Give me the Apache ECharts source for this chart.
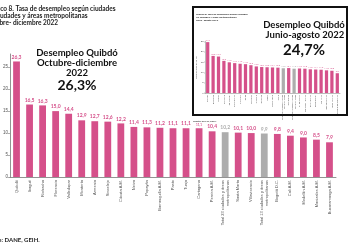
<!DOCTYPE html>
<html>
<head>
<meta charset="utf-8">
<script src="https://cdn.jsdelivr.net/npm/echarts@6/dist/echarts.min.js"></script>
<style>
  html, body { margin: 0; padding: 0; background: #fff; }
  #chart { width: 350px; height: 250px; }
</style>
</head>
<body>
<div id="chart"></div>
<script>
// Octubre-diciembre 2022
const ciudades = ['Quibdó', 'Ibagué', 'Riohacha', 'Florencia', 'Valledupar', 'Montería', 'Armenia', 'Sincelejo',
  'Cúcuta A.M.', 'Neiva', 'Popayán', 'Barranquilla A.M.', 'Pasto', 'Tunja', 'Cartagena', 'Pereira A.M.',
  'Total 23 ciudades y áreas metropolitanas', 'Santa Marta', 'Villavicencio',
  'Total 13 ciudades y áreas metropolitanas', 'Bogotá D.C.', 'Cali A.M.', 'Medellín A.M.',
  'Manizales A.M.', 'Bucaramanga A.M.'];
const tasaOctDic = [26.3, 16.5, 16.3, 15.0, 14.4, 12.9, 12.7, 12.6, 12.2, 11.4, 11.3, 11.2, 11.1, 11.1, 11.1,
  10.4, 10.2, 10.1, 10.0, 9.9, 9.8, 9.4, 9.0, 8.5, 7.9];

// recuadro: junio-agosto 2022
const ciudadesJunAgo = ['Quibdó', 'Riohacha', 'Ibagué', 'Florencia', 'Valledupar', 'Cúcuta A.M.', 'Sincelejo',
  'Neiva', 'Popayán', 'Armenia', 'Montería', 'Pasto', 'Santa Marta', 'Tunja',
  'Total 23 ciudades y áreas metropolitanas', 'Cartagena', 'Total 13 ciudades y áreas metropolitanas',
  'Villavicencio', 'Barranquilla A.M.', 'Pereira A.M.', 'Bogotá D.C.', 'Cali A.M.', 'Manizales A.M.',
  'Medellín A.M.', 'Bucaramanga A.M.'];
const tasaJunAgo = [24.7, 18.0, 17.7, 15.6, 14.9, 14.5, 14.2, 14.0, 13.5, 12.9, 12.6, 12.5, 12.4, 12.3,
  12.0, 12.1, 11.8, 11.9, 11.8, 11.5, 11.4, 11.3, 11.0, 10.8, 9.6];

const ticksY = [0, 5, 10, 15, 20, 25];

const ROSA = '#d5508a';
const GRIS = '#adadad';

const coma = v => v.toFixed(1).replace('.', ',');
const partir = s => s.replace(' metropolitanas', '\nmetropolitanas');
const barras = (nombres, valores) => valores.map((v, i) => {
  const total = nombres[i].indexOf('Total') === 0;
  return {
    value: v,
    itemStyle: { color: total ? GRIS : ROSA },
    label: { color: total ? GRIS : ROSA }
  };
});

const chart = echarts.init(document.getElementById('chart'));

const datosOctDic = barras(ciudades, tasaOctDic);
// la etiqueta de Cartagena queda pequeña bajo la nota de fuente
datosOctDic[ciudades.indexOf('Cartagena')].label.fontSize = 3;

const option = {
  animation: false,
  grid: [
    { left: 10, right: 14, top: 54, bottom: 73 },
    { left: 205, right: 10, top: 41.5, bottom: 157 }
  ],
  xAxis: [
    {
      type: 'category', data: ciudades, gridIndex: 0,
      axisLine: { lineStyle: { color: '#777', width: 0.8 } },
      axisTick: { length: 2, lineStyle: { color: '#777', width: 0.6 } },
      axisLabel: {
        rotate: 90, fontSize: 4, color: '#555', margin: 3, interval: 0,
        fontFamily: 'Liberation Sans', lineHeight: 5, formatter: partir
      }
    },
    {
      type: 'category', data: ciudadesJunAgo, gridIndex: 1,
      axisLine: { lineStyle: { color: '#777', width: 0.5 } },
      axisTick: { length: 1, lineStyle: { color: '#777', width: 0.4 } },
      axisLabel: {
        rotate: 90, fontSize: 2.2, color: '#444', margin: 2, interval: 0,
        fontFamily: 'Liberation Sans', lineHeight: 2.6, formatter: partir
      }
    }
  ],
  yAxis: [
    {
      type: 'value', gridIndex: 0, min: ticksY[0], max: 28, interval: ticksY[1] - ticksY[0],
      splitLine: { show: false },
      axisLine: { show: true, lineStyle: { color: '#777', width: 0.8 } },
      axisTick: { show: true, length: 2, lineStyle: { color: '#777', width: 0.6 } },
      axisLabel: { fontSize: 4.5, color: '#555', margin: 2, showMaxLabel: false, fontFamily: 'Liberation Sans' }
    },
    {
      type: 'value', gridIndex: 1, min: ticksY[0], max: ticksY[ticksY.length - 1], interval: ticksY[1] - ticksY[0],
      splitLine: { show: false },
      name: 'Tasa de desempleo (%)', nameLocation: 'middle', nameGap: 5,
      nameTextStyle: { fontSize: 2.2, color: '#444' },
      axisLine: { show: true, lineStyle: { color: '#777', width: 0.5 } },
      axisTick: { show: true, length: 1, lineStyle: { color: '#777', width: 0.4 } },
      axisLabel: { fontSize: 2.4, color: '#444', margin: 1.5, fontFamily: 'Liberation Sans' }
    }
  ],
  series: [
    {
      type: 'bar', xAxisIndex: 0, yAxisIndex: 0, barWidth: '52%',
      data: datosOctDic,
      label: {
        show: true, position: 'top', distance: 2, fontSize: 5, fontWeight: 'bold',
        fontFamily: 'Lato', formatter: p => coma(p.value)
      }
    },
    {
      type: 'bar', xAxisIndex: 1, yAxisIndex: 1, barWidth: '60%',
      data: barras(ciudadesJunAgo, tasaJunAgo),
      label: {
        show: true, position: 'top', distance: 1, fontSize: 2.2,
        fontFamily: 'Lato', formatter: p => coma(p.value)
      }
    }
  ],
  graphic: [
    // encabezado recortado a la izquierda
    { type: 'text', left: -14, top: 5, style: { text: 'Gráfico 8. Tasa de desempleo según ciudades', font: 'bold 6.5px Lato', fill: '#222' } },
    { type: 'text', left: -14, top: 12, style: { text: '23 ciudades y áreas metropolitanas', font: 'bold 6.5px Lato', fill: '#222' } },
    { type: 'text', left: -15, top: 19, style: { text: 'Octubre- diciembre 2022', font: 'bold 6.5px Lato', fill: '#222' } },
    { type: 'text', left: -17, top: 237, style: { text: 'Fuente: DANE, GEIH.', font: 'bold 6px Lato', fill: '#222' } },

    { type: 'text', x: 77, y: 53, style: { text: 'Desempleo Quibdó', font: 'bold 9.5px Lato', fill: '#111', textAlign: 'center', textVerticalAlign: 'middle' } },
    { type: 'text', x: 77, y: 63, style: { text: 'Octubre-diciembre', font: 'bold 9.5px Lato', fill: '#111', textAlign: 'center', textVerticalAlign: 'middle' } },
    { type: 'text', x: 77, y: 73, style: { text: '2022', font: 'bold 9.5px Lato', fill: '#111', textAlign: 'center', textVerticalAlign: 'middle' } },
    { type: 'text', x: 77, y: 85, style: { text: '26,3%', font: 'bold 14px Lato', fill: '#111', textAlign: 'center', textVerticalAlign: 'middle' } },

    { type: 'text', x: 193, y: 120, style: { text: 'Fuente: DANE, GEIH.', font: 'bold 2.5px Lato', fill: '#333' } },

    // recuadro junio-agosto
    { type: 'rect', z: -10, shape: { x: 193, y: 7, width: 154, height: 108 }, style: { fill: '#fff', stroke: '#111', lineWidth: 2 } },
    { type: 'text', x: 196, y: 12, style: { text: 'Gráfico 8. Tasa de desempleo según ciudades\n23 ciudades y áreas metropolitanas\nJunio- agosto 2022', font: 'bold 2.6px Lato', lineHeight: 3.4, fill: '#222' } },
    { type: 'text', x: 304, y: 25, style: { text: 'Desempleo Quibdó', font: 'bold 9.5px Lato', fill: '#111', textAlign: 'center', textVerticalAlign: 'middle' } },
    { type: 'text', x: 305, y: 35, style: { text: 'Junio-agosto 2022', font: 'bold 9.5px Lato', fill: '#111', textAlign: 'center', textVerticalAlign: 'middle' } },
    { type: 'text', x: 304, y: 50, style: { text: '24,7%', font: 'bold 15px Lato', fill: '#111', textAlign: 'center', textVerticalAlign: 'middle' } }
  ]
};

chart.setOption(option);
</script>
</body>
</html>
